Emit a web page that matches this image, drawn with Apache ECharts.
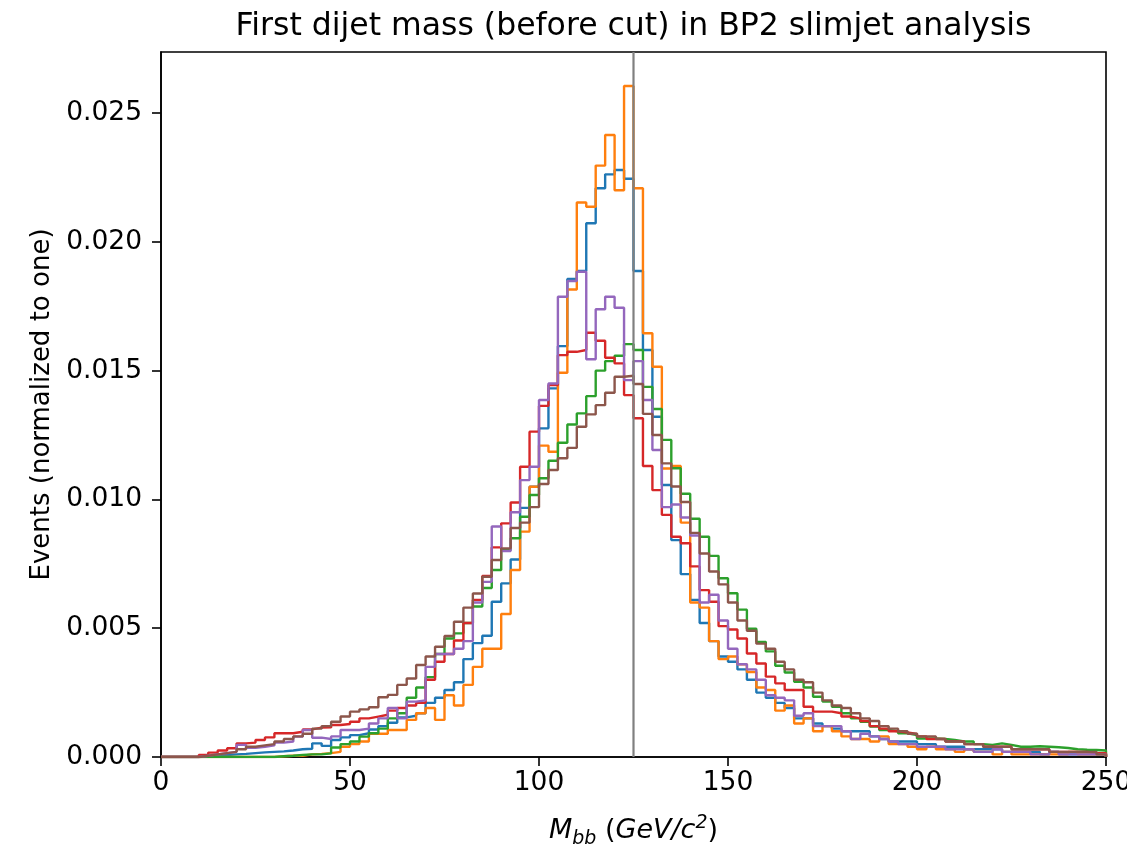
<!DOCTYPE html>
<html>
<head>
<meta charset="utf-8">
<script src="https://cdn.jsdelivr.net/npm/echarts@6/dist/echarts.min.js"></script>
<style>
  html, body { margin: 0; padding: 0; background: #fff; }
  #chart { width: 1127px; height: 848px; }
</style>
</head>
<body>
<div id="chart"></div>
<script>
// ---- data ----
const TITLE = 'First dijet mass (before cut) in BP2 slimjet analysis';
const BIN_START = 0;
const BIN_WIDTH = 2.5;
const X_TICKS = [0, 50, 100, 150, 200, 250];
const Y_TICKS = [0, 0.005, 0.010, 0.015, 0.020, 0.025];
const REF_LINE = 125;

const blue = [
0,0,0,0,0.00003,0.00005,0.00008,0.0001,0.00012,0.00015,
0.00018,0.0002,0.00022,0.00025,0.0003,0.00032,0.00053,0.00043,0.00066,0.00076,
0.00085,0.00092,0.00107,0.0012,0.00133,0.00154,0.0016,0.0017,0.0021,0.0023,
0.0026,0.0029,0.0038,0.00442,0.00471,0.00603,0.00674,0.00767,0.00967,0.01049,
0.01276,0.01431,0.01595,0.01856,0.01887,0.02072,0.02208,0.02262,0.02279,0.02245,
0.01887,0.0158,0.01321,0.01056,0.00842,0.0071,0.0061,0.0052,0.0045,0.0039,
0.0037,0.0034,0.0030,0.0025,0.0023,0.0021,0.0019,0.0015,0.0015,0.0013,
0.0012,0.0011,0.0010,0.0010,0.0010,0.0008,0.0007,0.0006,0.0006,0.0006,
0.0005,0.0005,0.0004,0.0004,0.0004,0.0003,0.0003,0.0003,0.0003,0.0002,
0.0002,0.0002,0.0002,0.0001,0.0002,0.0001,0.0001,0.0001,0.0001,0.0001
];
const orange = [
0,0,0,0,0,0,0,0,0,0,
0,0,0.00003,0.00005,0.00005,0.0001,0.00012,0.00015,0.0002,0.0004,
0.0005,0.0006,0.0009,0.0009,0.00105,0.00105,0.00144,0.0017,0.0019,0.00144,
0.0024,0.0020,0.0028,0.0035,0.0042,0.0042,0.00555,0.00726,0.00875,0.01049,
0.01209,0.01185,0.01492,0.01815,0.02153,0.02136,0.02296,0.02415,0.0220,0.02605,
0.02208,0.01645,0.01515,0.0112,0.0113,0.0091,0.0060,0.0058,0.0045,0.0038,
0.0039,0.0036,0.0033,0.0027,0.0026,0.0018,0.0020,0.0013,0.0015,0.0010,
0.0012,0.0010,0.0008,0.0007,0.0007,0.0006,0.0008,0.0005,0.0005,0.0004,
0.0003,0.0004,0.0003,0.0003,0.0002,0.0003,0.0002,0.0002,0.0001,0.0002,
0.0001,0.0001,0.0001,0.0001,0.0001,0.0001,0.0002,0.0001,0.0001,0.0001
];
const green = [
0,0,0,0,0,0,0,0,0,0,
0,0,0.00003,0.00005,0.00008,0.0001,0.0001,0.00014,0.00037,0.0005,
0.0006,0.00079,0.00092,0.0011,0.0015,0.0017,0.0023,0.0027,0.0031,0.0040,
0.0046,0.0048,0.0052,0.00584,0.00656,0.00726,0.00804,0.00849,0.00933,0.01017,
0.01082,0.0115,0.0122,0.01291,0.01334,0.01401,0.0150,0.01537,0.01558,0.01603,
0.0158,0.01437,0.01351,0.01231,0.01121,0.01022,0.00925,0.00855,0.00781,0.00694,
0.00636,0.00572,0.00498,0.00447,0.0041,0.00354,0.00328,0.00292,0.0027,0.00234,
0.00215,0.00195,0.0017,0.0015,0.00137,0.00118,0.00105,0.0010,0.00092,0.00085,
0.00072,0.00072,0.0007,0.00066,0.0006,0.0006,0.0005,0.00047,0.00053,0.00047,
0.0004,0.0004,0.00042,0.0004,0.00038,0.00035,0.0003,0.00028,0.00027,0.00025
];
const red = [
0,0,0,0,0.00008,0.00017,0.00025,0.00034,0.00053,0.00056,
0.00066,0.00076,0.00092,0.00092,0.00098,0.00107,0.00114,0.00115,0.00124,0.00128,
0.00137,0.0015,0.00157,0.00164,0.0018,0.0019,0.0020,0.0021,0.0030,0.0037,
0.0040,0.00452,0.0052,0.0061,0.00703,0.00814,0.00907,0.00988,0.01127,0.01263,
0.01363,0.01444,0.0156,0.01573,0.0158,0.01647,0.01616,0.0155,0.01528,0.01405,
0.01315,0.0113,0.01036,0.0094,0.00855,0.0083,0.0074,0.00648,0.00603,0.00508,
0.00495,0.0046,0.00402,0.00363,0.00312,0.00286,0.0026,0.0026,0.00195,0.00176,
0.00176,0.0017,0.00157,0.0015,0.0014,0.0012,0.0011,0.0010,0.00095,0.0009,
0.0008,0.0007,0.0007,0.0006,0.0006,0.0005,0.0005,0.0004,0.0004,0.0004,
0.0003,0.0003,0.0003,0.0003,0.0002,0.0002,0.0002,0.0002,0.00015,0.00015
];
const purple = [
0,0,0,0,0.00005,0.0001,0.00015,0.0002,0.00047,0.00036,
0.0004,0.00045,0.00056,0.0006,0.00079,0.00105,0.00075,0.0007,0.0008,0.00105,
0.00105,0.0011,0.0013,0.0015,0.0019,0.0015,0.00215,0.0022,0.0035,0.0040,
0.0040,0.0042,0.0045,0.0060,0.0068,0.00895,0.0080,0.0095,0.01075,0.01127,
0.01386,0.0145,0.01787,0.01848,0.01884,0.01544,0.01738,0.01787,0.01744,0.01463,
0.01537,0.01386,0.01192,0.0097,0.0098,0.0093,0.0086,0.0060,0.0063,0.0053,
0.0042,0.0036,0.0034,0.0030,0.0024,0.0023,0.0022,0.0016,0.0017,0.0012,
0.0012,0.0012,0.0010,0.0007,0.0009,0.0008,0.0007,0.0006,0.0005,0.0005,
0.0004,0.0004,0.0004,0.0003,0.0003,0.0003,0.0002,0.0002,0.0003,0.0002,
0.0002,0.0002,0.0001,0.0001,0.0002,0.0001,0.0001,0.0001,0.0001,0.0001
];
const brown = [
0,0,0,0,0.00005,0.0001,0.00015,0.0002,0.0003,0.0004,
0.00045,0.0005,0.0006,0.0007,0.0008,0.0009,0.0011,0.0012,0.00137,0.00157,
0.00176,0.00185,0.00193,0.00232,0.00241,0.0028,0.00305,0.00357,0.0039,0.00428,
0.0047,0.00525,0.0058,0.00635,0.0070,0.00765,0.0081,0.00889,0.0091,0.0097,
0.0106,0.01114,0.0116,0.0120,0.01282,0.0133,0.01366,0.01414,0.01476,0.0148,
0.01448,0.01332,0.0125,0.0114,0.0105,0.0099,0.0087,0.0079,0.0072,0.0067,
0.0060,0.0053,0.0049,0.0044,0.0042,0.0037,0.0034,0.0030,0.0029,0.0025,
0.0022,0.0020,0.0019,0.0017,0.0015,0.0014,0.0012,0.0011,0.0010,0.0009,
0.0008,0.0008,0.0007,0.0006,0.0006,0.0005,0.0005,0.0004,0.0004,0.0004,
0.0003,0.0003,0.0003,0.0003,0.0002,0.0002,0.0002,0.0002,0.0002,0.0001
];

const SERIES = [
  { values: blue,   color: '#1f77b4' },
  { values: orange, color: '#ff7f0e' },
  { values: green,  color: '#2ca02c' },
  { values: red,    color: '#d62728' },
  { values: purple, color: '#9467bd' },
  { values: brown,  color: '#8c564b' }
];

// ---- chart ----
const X_MIN = 0, X_MAX = 250, Y_MIN = 0, Y_MAX = 0.02737;
const FONT = 'DejaVu Sans';

function stepData(vals) {
  const pts = [[BIN_START, 0]];
  vals.forEach((v, i) => pts.push([BIN_START + i * BIN_WIDTH, v]));
  const end = BIN_START + vals.length * BIN_WIDTH;
  pts.push([end, vals[vals.length - 1]]);
  pts.push([end, 0]);
  return pts;
}

const chart = echarts.init(document.getElementById('chart'), null, { renderer: 'canvas' });

const series = SERIES.map(s => ({
  type: 'line',
  step: 'end',
  data: stepData(s.values),
  showSymbol: false,
  symbol: 'none',
  lineStyle: { color: s.color, width: 2.4 },
  itemStyle: { color: s.color },
  silent: true,
  animation: false
}));

series.push({
  type: 'line',
  data: [[REF_LINE, Y_MIN], [REF_LINE, Y_MAX]],
  showSymbol: false,
  symbol: 'none',
  lineStyle: { color: '#808080', width: 2.2 },
  silent: true,
  z: 5,
  animation: false
});

chart.setOption({
  animation: false,
  backgroundColor: '#fff',
  title: {
    text: TITLE,
    left: 633.5,
    top: 11,
    padding: 0,
    textAlign: 'center',
    textStyle: { fontFamily: FONT, fontSize: 31.5, fontWeight: 'normal', color: '#000' }
  },
  grid: {
    left: 161, right: 21, top: 52, bottom: 91,
    outerBoundsMode: 'none',
    containLabel: false,
    show: true, borderColor: '#000', borderWidth: 1.6, backgroundColor: 'transparent'
  },
  xAxis: {
    type: 'value',
    min: X_MIN, max: X_MAX, interval: 50,
    name: '{it|M}{sub|bb} {rm|(}{it|GeV/c}{sup|2}{rm|)}',
    nameLocation: 'middle',
    nameGap: 55,
    nameTextStyle: {
      fontFamily: FONT, fontSize: 27, color: '#000',
      rich: {
        it: { fontFamily: FONT, fontSize: 27, fontStyle: 'italic', color: '#000' },
        rm: { fontFamily: FONT, fontSize: 27, color: '#000' },
        sub: { fontFamily: FONT, fontSize: 19, fontStyle: 'italic', color: '#000', padding: [18, 0, 0, 0] },
        sup: { fontFamily: FONT, fontSize: 19, fontStyle: 'italic', color: '#000', padding: [0, 0, 14, 0] }
      }
    },
    axisLine: { show: true, onZero: false, lineStyle: { color: '#000', width: 1.6 } },
    axisTick: { show: true, length: 9, lineStyle: { color: '#000', width: 1.6 } },
    axisLabel: {
      fontFamily: FONT, fontSize: 26.5, color: '#000', margin: 13,
      showMinLabel: true, showMaxLabel: true, hideOverlap: false,
      formatter: v => X_TICKS.includes(v) ? String(v) : ''
    },
    splitLine: { show: false }
  },
  yAxis: {
    type: 'value',
    min: Y_MIN, max: Y_MAX, interval: 0.005,
    name: 'Events (normalized to one)',
    nameLocation: 'middle',
    nameGap: 106,
    nameTextStyle: { fontFamily: FONT, fontSize: 26, color: '#000' },
    axisLine: { show: true, onZero: false, lineStyle: { color: '#000', width: 1.6 } },
    axisTick: { show: true, length: 9, lineStyle: { color: '#000', width: 1.6 } },
    axisLabel: {
      fontFamily: FONT, fontSize: 26.5, color: '#000', margin: 19,
      showMaxLabel: false,
      formatter: v => {
        const t = Y_TICKS.find(k => Math.abs(k - v) < 1e-9);
        return t === undefined ? '' : t.toFixed(3);
      }
    },
    splitLine: { show: false }
  },
  series: series
});
</script>
</body>
</html>
